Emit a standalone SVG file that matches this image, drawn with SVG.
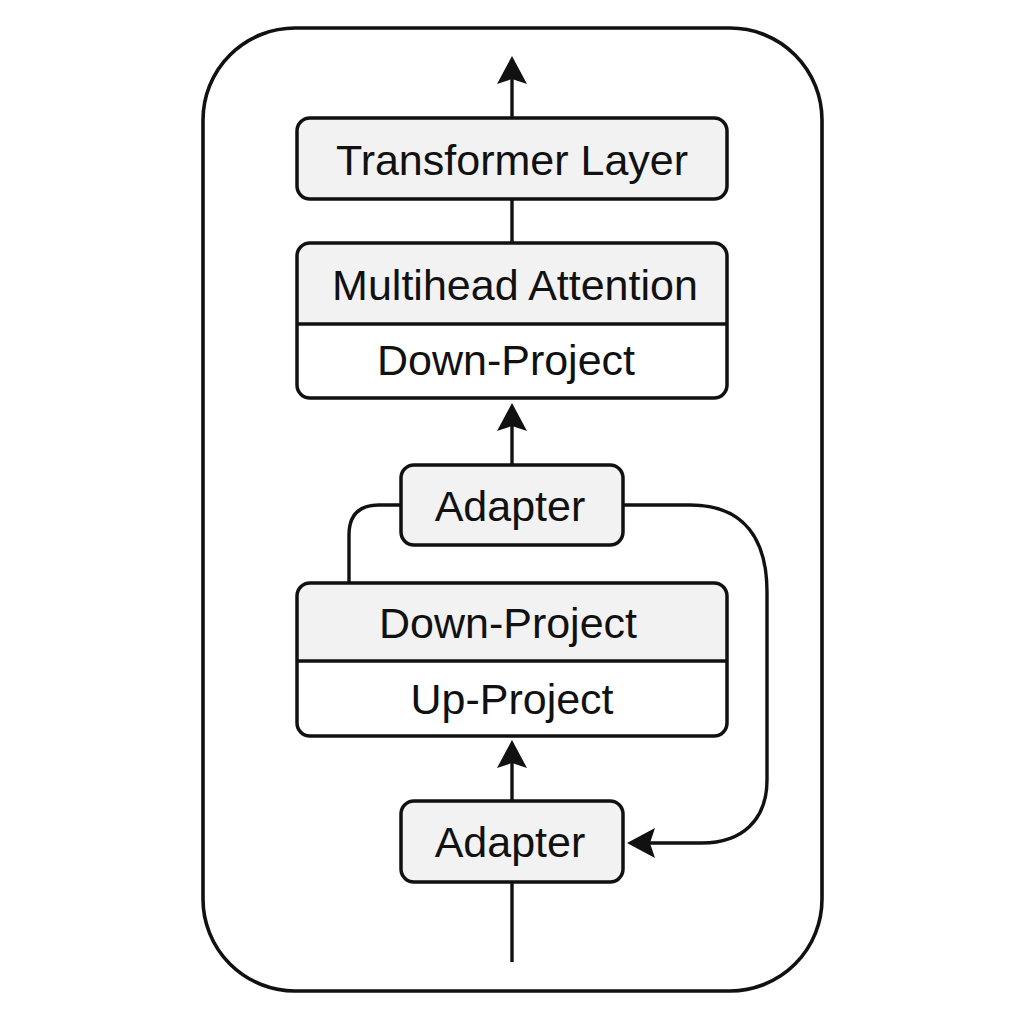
<svg xmlns="http://www.w3.org/2000/svg" width="1024" height="1024" viewBox="0 0 1024 1024">
<defs>
<style>
.frame{fill:none;stroke:#111;stroke-width:3.6}
.box{fill:#f2f2f2;stroke:#111;stroke-width:3.5}
.white{fill:#ffffff;stroke:none}
.grey{fill:#f2f2f2;stroke:none}
.outline{fill:none;stroke:#111;stroke-width:3.5}
.div{stroke:#111;stroke-width:3.5}
.conn{fill:none;stroke:#111;stroke-width:3.4}
.lbl{font-family:"Liberation Sans",Arial,Helvetica,sans-serif;font-size:43px;fill:#111;text-anchor:middle}
</style>
<marker id="arr" viewBox="0 0 28 30" refX="8" refY="15" markerWidth="28" markerHeight="30" markerUnits="userSpaceOnUse" orient="auto">
<path d="M0,0 L28,15 L0,30 L5,15 Z" fill="#111"/>
</marker>
</defs>
<rect width="1024" height="1024" fill="#ffffff"/>
<rect id="frame" class="frame" x="203" y="28" width="619" height="963" rx="92" ry="92"/>

<g id="connectors">
<path class="conn" d="M512,118 V76" marker-end="url(#arr)"/>
<path class="conn" d="M512,199 V243"/>
<path class="conn" d="M512,465 V423" marker-end="url(#arr)"/>
<path class="conn" d="M512,801 V760" marker-end="url(#arr)"/>
<path class="conn" d="M512,882 V962"/>
<path class="conn" d="M401,505 H379 Q349,505 349,535 V583"/>
<path class="conn" d="M623,505 H690 C745,505 767,540 767,592 V780 C767,820 742,843 702,843 H647" marker-end="url(#arr)"/>
</g>

<g id="transformer-layer">
<rect class="box" x="297" y="118" width="430" height="81" rx="13"/>
<text class="lbl" x="512" y="175">Transformer Layer</text>
</g>

<g id="multihead-block">
<rect class="white" x="297" y="243" width="430" height="155" rx="13"/>
<path class="grey" d="M297,324 V256 Q297,243 310,243 H714 Q727,243 727,256 V324 Z"/>
<line class="div" x1="297" y1="324" x2="727" y2="324"/>
<rect class="outline" x="297" y="243" width="430" height="155" rx="13"/>
<text class="lbl" x="515" y="300">Multihead Attention</text>
<text class="lbl" x="506" y="375">Down-Project</text>
</g>

<g id="adapter-top">
<rect class="box" x="401" y="465" width="222" height="80" rx="13"/>
<text class="lbl" x="510" y="521">Adapter</text>
</g>

<g id="projection-block">
<rect class="white" x="297" y="583" width="430" height="153" rx="13"/>
<path class="grey" d="M297,661 V596 Q297,583 310,583 H714 Q727,583 727,596 V661 Z"/>
<line class="div" x1="297" y1="661" x2="727" y2="661"/>
<rect class="outline" x="297" y="583" width="430" height="153" rx="13"/>
<text class="lbl" x="508" y="638">Down-Project</text>
<text class="lbl" x="512" y="714">Up-Project</text>
</g>

<g id="adapter-bottom">
<rect class="box" x="401" y="801" width="222" height="81" rx="13"/>
<text class="lbl" x="510" y="857">Adapter</text>
</g>
</svg>
